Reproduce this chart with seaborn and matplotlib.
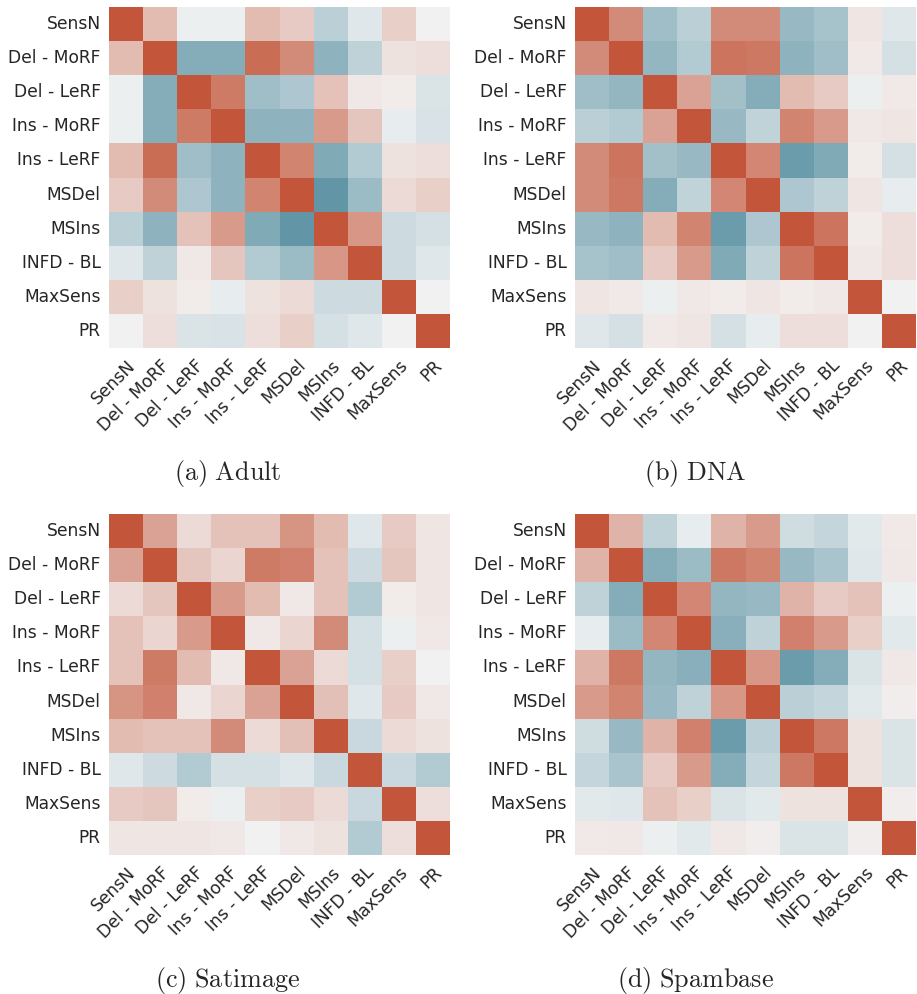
import matplotlib
matplotlib.use("Agg")
import matplotlib.pyplot as plt
import numpy as np
import pandas as pd
import seaborn as sns

metrics = ["SensN", "Del - MoRF", "Del - LeRF", "Ins - MoRF", "Ins - LeRF",
           "MSDel", "MSIns", "INFD - BL", "MaxSens", "PR"]

adult = [
    [1.00, 0.35, -0.03, -0.03, 0.35, 0.25, -0.30, -0.10, 0.22, 0.00],
    [0.35, 1.00, -0.60, -0.60, 0.85, 0.65, -0.55, -0.28, 0.10, 0.12],
    [-0.03, -0.60, 1.00, 0.75, -0.45, -0.38, 0.30, 0.06, 0.04, -0.12],
    [-0.03, -0.60, 0.75, 1.00, -0.55, -0.55, 0.55, 0.28, -0.05, -0.13],
    [0.35, 0.85, -0.45, -0.55, 1.00, 0.70, -0.62, -0.35, 0.10, 0.12],
    [0.25, 0.65, -0.38, -0.55, 0.70, 1.00, -0.80, -0.48, 0.15, 0.22],
    [-0.30, -0.55, 0.30, 0.55, -0.62, -0.80, 1.00, 0.58, -0.20, -0.15],
    [-0.10, -0.28, 0.06, 0.28, -0.35, -0.48, 0.58, 1.00, -0.20, -0.10],
    [0.22, 0.10, 0.04, -0.05, 0.10, 0.15, -0.20, -0.20, 1.00, 0.00],
    [0.00, 0.12, -0.12, -0.13, 0.12, 0.22, -0.15, -0.10, 0.00, 1.00],
]

dna = [
    [1.00, 0.65, -0.45, -0.30, 0.65, 0.65, -0.50, -0.42, 0.08, -0.10],
    [0.65, 1.00, -0.52, -0.35, 0.80, 0.78, -0.55, -0.45, 0.05, -0.15],
    [-0.45, -0.52, 1.00, 0.50, -0.43, -0.60, 0.35, 0.25, -0.03, 0.05],
    [-0.30, -0.35, 0.50, 1.00, -0.50, -0.27, 0.70, 0.55, 0.06, 0.08],
    [0.65, 0.80, -0.43, -0.50, 1.00, 0.68, -0.75, -0.62, 0.04, -0.15],
    [0.65, 0.78, -0.60, -0.27, 0.68, 1.00, -0.38, -0.28, 0.08, -0.05],
    [-0.50, -0.55, 0.35, 0.70, -0.75, -0.38, 1.00, 0.80, 0.04, 0.12],
    [-0.42, -0.45, 0.25, 0.55, -0.62, -0.28, 0.80, 1.00, 0.06, 0.12],
    [0.08, 0.05, -0.03, 0.06, 0.04, 0.08, 0.04, 0.06, 1.00, 0.00],
    [-0.10, -0.15, 0.05, 0.08, -0.15, -0.05, 0.12, 0.12, 0.00, 1.00],
]

satimage = [
    [1.00, 0.50, 0.15, 0.30, 0.30, 0.60, 0.35, -0.10, 0.25, 0.08],
    [0.50, 1.00, 0.28, 0.18, 0.75, 0.72, 0.30, -0.20, 0.28, 0.08],
    [0.15, 0.28, 1.00, 0.55, 0.35, 0.06, 0.30, -0.35, 0.04, 0.08],
    [0.30, 0.18, 0.55, 1.00, 0.06, 0.18, 0.65, -0.15, -0.03, 0.06],
    [0.30, 0.75, 0.35, 0.06, 1.00, 0.50, 0.15, -0.15, 0.22, 0.00],
    [0.60, 0.72, 0.06, 0.18, 0.50, 1.00, 0.32, -0.10, 0.25, 0.06],
    [0.35, 0.30, 0.30, 0.65, 0.15, 0.32, 1.00, -0.22, 0.15, 0.10],
    [-0.10, -0.20, -0.35, -0.15, -0.15, -0.10, -0.22, 1.00, -0.22, -0.35],
    [0.25, 0.28, 0.04, -0.03, 0.22, 0.25, 0.15, -0.22, 1.00, 0.12],
    [0.08, 0.08, 0.08, 0.06, 0.00, 0.06, 0.10, -0.35, 0.12, 1.00],
]

spambase = [
    [1.00, 0.40, -0.28, -0.05, 0.40, 0.55, -0.18, -0.25, -0.08, 0.05],
    [0.40, 1.00, -0.60, -0.48, 0.78, 0.70, -0.50, -0.40, -0.10, 0.06],
    [-0.28, -0.60, 1.00, 0.68, -0.52, -0.50, 0.40, 0.25, 0.30, -0.03],
    [-0.05, -0.48, 0.68, 1.00, -0.58, -0.28, 0.72, 0.55, 0.22, -0.08],
    [0.40, 0.78, -0.52, -0.58, 1.00, 0.58, -0.75, -0.60, -0.12, 0.06],
    [0.55, 0.70, -0.50, -0.28, 0.58, 1.00, -0.30, -0.25, -0.08, 0.03],
    [-0.18, -0.50, 0.40, 0.72, -0.75, -0.30, 1.00, 0.78, 0.10, -0.12],
    [-0.25, -0.40, 0.25, 0.55, -0.60, -0.25, 0.78, 1.00, 0.10, -0.12],
    [-0.08, -0.10, 0.30, 0.22, -0.12, -0.08, 0.10, 0.10, 1.00, 0.03],
    [0.05, 0.06, -0.03, -0.08, 0.06, 0.03, -0.12, -0.12, 0.03, 1.00],
]

captions = ["(a) Adult", "(b) DNA", "(c) Satimage", "(d) Spambase"]
matrices = [adult, dna, satimage, spambase]

sns.set_style("white")
plt.rcParams["font.family"] = ["DejaVu Sans"]
plt.rcParams["mathtext.fontset"] = "cm"

W, H = 917, 994
fig = plt.figure(figsize=(W / 100, H / 100), dpi=100)
cmap = sns.diverging_palette(220, 20, as_cmap=True)

# panel boxes in pixels: left, top
boxes = [(109, 7), (575, 7), (109, 514), (575, 514)]
caption_pos = [(228, 473), (695, 473), (228, 980), (695, 980)]
size = 341

for mat, cap, (lx, ty), (cx, cy) in zip(matrices, captions, boxes, caption_pos):
    ax = fig.add_axes([lx / W, 1 - (ty + size) / H, size / W, size / H])
    df = pd.DataFrame(np.array(mat), index=metrics, columns=metrics)
    sns.heatmap(df, cmap=cmap, center=0, vmin=-1, vmax=1, cbar=False,
                square=False, ax=ax)
    ax.tick_params(length=0, pad=6)
    ax.set_yticklabels(metrics, rotation=0, fontsize=12.3)
    ax.set_xticklabels(metrics, rotation=45, ha="right",
                       rotation_mode="anchor", fontsize=12.3)
    label = cap.replace(" ", r"\ ")
    fig.text(cx / W, 1 - cy / H, r"$\mathrm{" + label + "}$",
             ha="center", va="center", fontsize=18.8)

fig.savefig("out.png", dpi=100)
